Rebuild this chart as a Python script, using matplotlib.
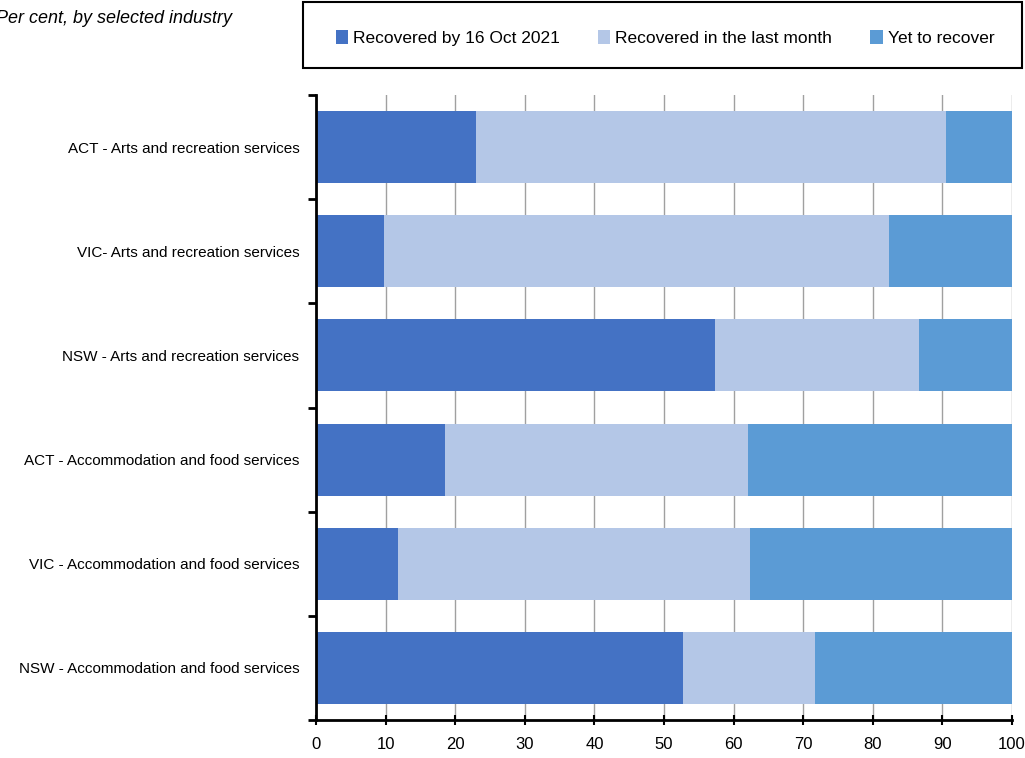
import matplotlib
matplotlib.use("Agg")
import matplotlib.pyplot as plt
from matplotlib.patches import Rectangle
import numpy as np

plt.rcParams['font.family'] = ['Liberation Sans Narrow', 'Liberation Sans', 'DejaVu Sans']

categories = [
    "NSW - Accommodation and food services",
    "VIC - Accommodation and food services",
    "ACT - Accommodation and food services",
    "NSW - Arts and recreation services",
    "VIC- Arts and recreation services",
    "ACT - Arts and recreation services",
]
recovered_oct = [52.7, 11.8, 18.5, 57.3, 9.8, 23.0]
recovered_month = [19.0, 50.6, 43.6, 29.3, 72.5, 67.5]
yet_to_recover = [28.3, 37.6, 37.9, 13.4, 17.7, 9.5]
series_names = ["Recovered by 16 Oct 2021", "Recovered in the last month", "Yet to recover"]
colors = ["#4472C4", "#B4C7E7", "#5B9BD5"]
xticks = [0, 10, 20, 30, 40, 50, 60, 70, 80, 90, 100]

W, H = 1025, 758
fig = plt.figure(figsize=(10.25, 7.58), dpi=100)
ax = fig.add_axes([316 / W, 1 - 720 / H, (1012 - 316) / W, (720 - 95) / H])

y = np.arange(len(categories))
left = np.zeros(len(categories))
for vals, name, c in zip([recovered_oct, recovered_month, yet_to_recover], series_names, colors):
    ax.barh(y, vals, left=left, height=0.69, color=c, label=name, zorder=3)
    left = left + np.array(vals)

ax.set_xlim(0, 100)
ax.set_ylim(-0.5, len(categories) - 0.5)
ax.set_xticks(xticks)
ax.set_xticklabels([str(t) for t in xticks], fontsize=12)
ax.set_yticks(y)
ax.set_yticklabels(categories, fontsize=11)
ax.tick_params(axis='y', length=0, pad=12)
ax.set_yticks(np.arange(-0.5, len(categories), 1), minor=True)
ax.tick_params(axis='y', which='minor', length=6, width=2, direction='out')
ax.tick_params(axis='x', length=7, width=1.5, direction='inout', pad=9)
ax.grid(axis='x', color='#A0A0A0', linewidth=1, zorder=0)
for s in ['top', 'right']:
    ax.spines[s].set_visible(False)
ax.spines['left'].set_linewidth(2)
ax.spines['bottom'].set_linewidth(2)
ax.spines['left'].set_zorder(4)

fig.text(-0.004, 0.975, "Per cent, by selected industry", fontsize=13, style='italic',
         ha='left', va='center')

# legend frame
fig.add_artist(Rectangle((303 / W, 1 - 68 / H), (1022 - 303) / W, 66 / H,
                         transform=fig.transFigure, fill=False, edgecolor='black',
                         linewidth=1.5))
leg = fig.legend(loc='center', bbox_to_anchor=(665 / W, 1 - 38 / H), ncol=3, frameon=False,
                 fontsize=12.5, handlelength=0.7, handleheight=0.9, handletextpad=0.3,
                 columnspacing=2.2, borderpad=0, borderaxespad=0)

fig.savefig("out.png", dpi=100)
